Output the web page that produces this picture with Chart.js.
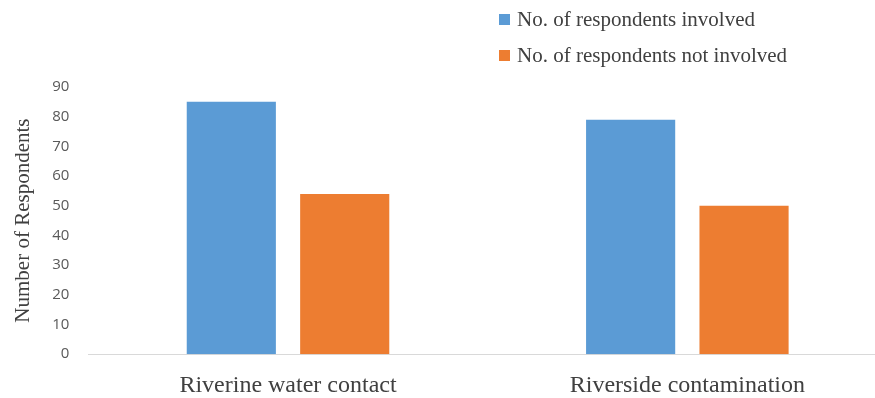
<!DOCTYPE html>
<html>
<head>
<meta charset="utf-8">
<script src="https://cdn.jsdelivr.net/npm/chart.js@4"></script>
<style>
  body { margin: 0; background: #fff; overflow: hidden; }
  #wrap { position: relative; width: 890px; height: 398px; }
  #legend { position: absolute; left: 499px; top: 1px; font-family: "Liberation Serif", serif; font-size: 21px; color: #404040; }
  #legend div { height: 36px; display: flex; align-items: center; }
  #legend span { display: inline-block; width: 11px; height: 11px; margin-right: 7px; }
</style>
</head>
<body>
<div id="wrap">
  <canvas id="chartRespondents" width="890" height="398"></canvas>
  <div id="legend"></div>
</div>
<script>
// Data
const categories = ['Riverine water contact', 'Riverside contamination'];
const involved = [85, 79];
const notInvolved = [54, 50];
const seriesNames = ['No. of respondents involved', 'No. of respondents not involved'];
const seriesColors = ['#5B9BD5', '#ED7D31'];

const ctx = document.getElementById('chartRespondents').getContext('2d');

const chart = new Chart(ctx, {
  type: 'bar',
  data: {
    labels: categories,
    datasets: [
      { label: seriesNames[0], data: involved, backgroundColor: seriesColors[0] },
      { label: seriesNames[1], data: notInvolved, backgroundColor: seriesColors[1] }
    ]
  },
  options: {
    responsive: false,
    animation: false,
    categoryPercentage: 0.568,
    barPercentage: 0.786,
    // chart.js counts tick padding twice when fitting axes, hence the negative bottom
    layout: { padding: { top: 87, left: 11, right: 3, bottom: -19 } },
    plugins: {
      legend: { display: false },
      tooltip: { enabled: false }
    },
    scales: {
      x: {
        grid: { display: false, drawTicks: false },
        border: { color: '#d9d9d9' },
        ticks: {
          color: '#404040',
          padding: 17,
          font: { family: 'Liberation Serif', size: 24 }
        }
      },
      y: {
        min: 0,
        max: 90,
        grid: { display: false, drawTicks: false },
        border: { display: false },
        ticks: {
          stepSize: 10,
          color: '#595959',
          padding: 19,
          font: { family: 'Open Sans', size: 15 }
        },
        title: {
          display: true,
          text: 'Number of Respondents',
          color: '#404040',
          padding: { top: 0, bottom: -3 },
          font: { family: 'Liberation Serif', size: 21 }
        }
      }
    }
  }
});

// legend drawn as html, two rows at the top right
const legendBox = document.getElementById('legend');
chart.data.datasets.forEach(ds => {
  const row = document.createElement('div');
  row.innerHTML = '<span style="background:' + ds.backgroundColor + '"></span>' + ds.label;
  legendBox.appendChild(row);
});
</script>
</body>
</html>
